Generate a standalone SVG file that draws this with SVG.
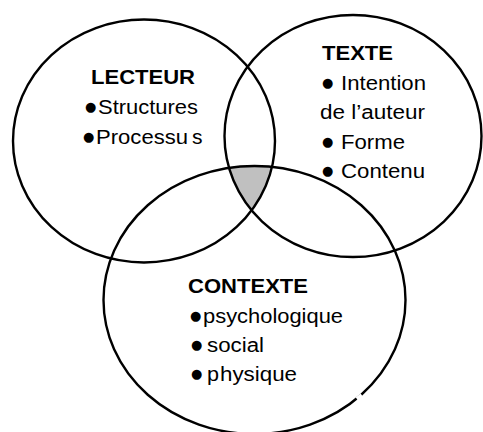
<svg xmlns="http://www.w3.org/2000/svg" width="483" height="432" viewBox="0 0 483 432">
  <style>
    .ring { fill: none; stroke: #000; stroke-width: 2.4; }
    .t { font-family: "Liberation Sans", Arial, sans-serif; font-size: 20px; fill: #000; }
    .h { font-weight: bold; }
    .b { font-family: "DejaVu Sans", sans-serif; font-size: 13px; }
  </style>
  <defs>
    <clipPath id="cL"><ellipse cx="144" cy="141" rx="131" ry="121.5"/></clipPath>
    <clipPath id="cR"><ellipse cx="353" cy="136" rx="128.5" ry="121"/></clipPath>
  </defs>
  <rect width="483" height="432" fill="#fff"/>
  <g id="overlap" clip-path="url(#cL)">
    <g clip-path="url(#cR)">
      <ellipse cx="254.5" cy="300" rx="151" ry="134" fill="#c0c0c0"/>
    </g>
  </g>
  <g id="connectors"/>
  <g id="lecteur">
    <ellipse class="ring" cx="144" cy="141" rx="131" ry="121.5"/>
    <text class="t h" x="91" y="84" textLength="104" lengthAdjust="spacingAndGlyphs">LECTEUR</text>
    <text class="t"><tspan class="b" x="85" y="111">●</tspan><tspan x="98" y="114" textLength="100" lengthAdjust="spacingAndGlyphs">Structures</tspan></text>
    <text class="t"><tspan class="b" x="83" y="141">●</tspan><tspan x="96" y="144" textLength="92" lengthAdjust="spacingAndGlyphs">Processu</tspan><tspan x="192" y="144" textLength="10.5" lengthAdjust="spacingAndGlyphs">s</tspan></text>
  </g>
  <g id="texte">
    <ellipse class="ring" cx="353" cy="136" rx="128.5" ry="121"/>
    <text class="t h" x="322" y="60" textLength="71" lengthAdjust="spacingAndGlyphs">TEXTE</text>
    <text class="t"><tspan class="b" x="322" y="87">●</tspan><tspan x="341" y="90" textLength="85" lengthAdjust="spacingAndGlyphs">Intention</tspan></text>
    <text class="t" x="320" y="119" textLength="105" lengthAdjust="spacingAndGlyphs">de l’auteur</text>
    <text class="t"><tspan class="b" x="322" y="146">●</tspan><tspan x="341" y="149" textLength="64" lengthAdjust="spacingAndGlyphs">Forme</tspan></text>
    <text class="t"><tspan class="b" x="322" y="175">●</tspan><tspan x="341" y="178" textLength="84" lengthAdjust="spacingAndGlyphs">Contenu</tspan></text>
  </g>
  <g id="contexte">
    <ellipse class="ring" cx="254.5" cy="300" rx="151" ry="134"/>
    <line x1="356.8" y1="398.8" x2="361.8" y2="395.2" stroke="#fff" stroke-width="4"/>
    <text class="t h" x="188" y="293" textLength="120" lengthAdjust="spacingAndGlyphs">CONTEXTE</text>
    <text class="t"><tspan class="b" x="190" y="320">●</tspan><tspan x="203" y="323" textLength="140" lengthAdjust="spacingAndGlyphs">psychologique</tspan></text>
    <text class="t"><tspan class="b" x="191" y="349">●</tspan><tspan x="207" y="352" textLength="57" lengthAdjust="spacingAndGlyphs">social</tspan></text>
    <text class="t"><tspan class="b" x="191" y="378">●</tspan><tspan x="207" y="381" textLength="12" lengthAdjust="spacingAndGlyphs">p</tspan><tspan x="220" y="381" textLength="77" lengthAdjust="spacingAndGlyphs">hysique</tspan></text>
  </g>
</svg>
